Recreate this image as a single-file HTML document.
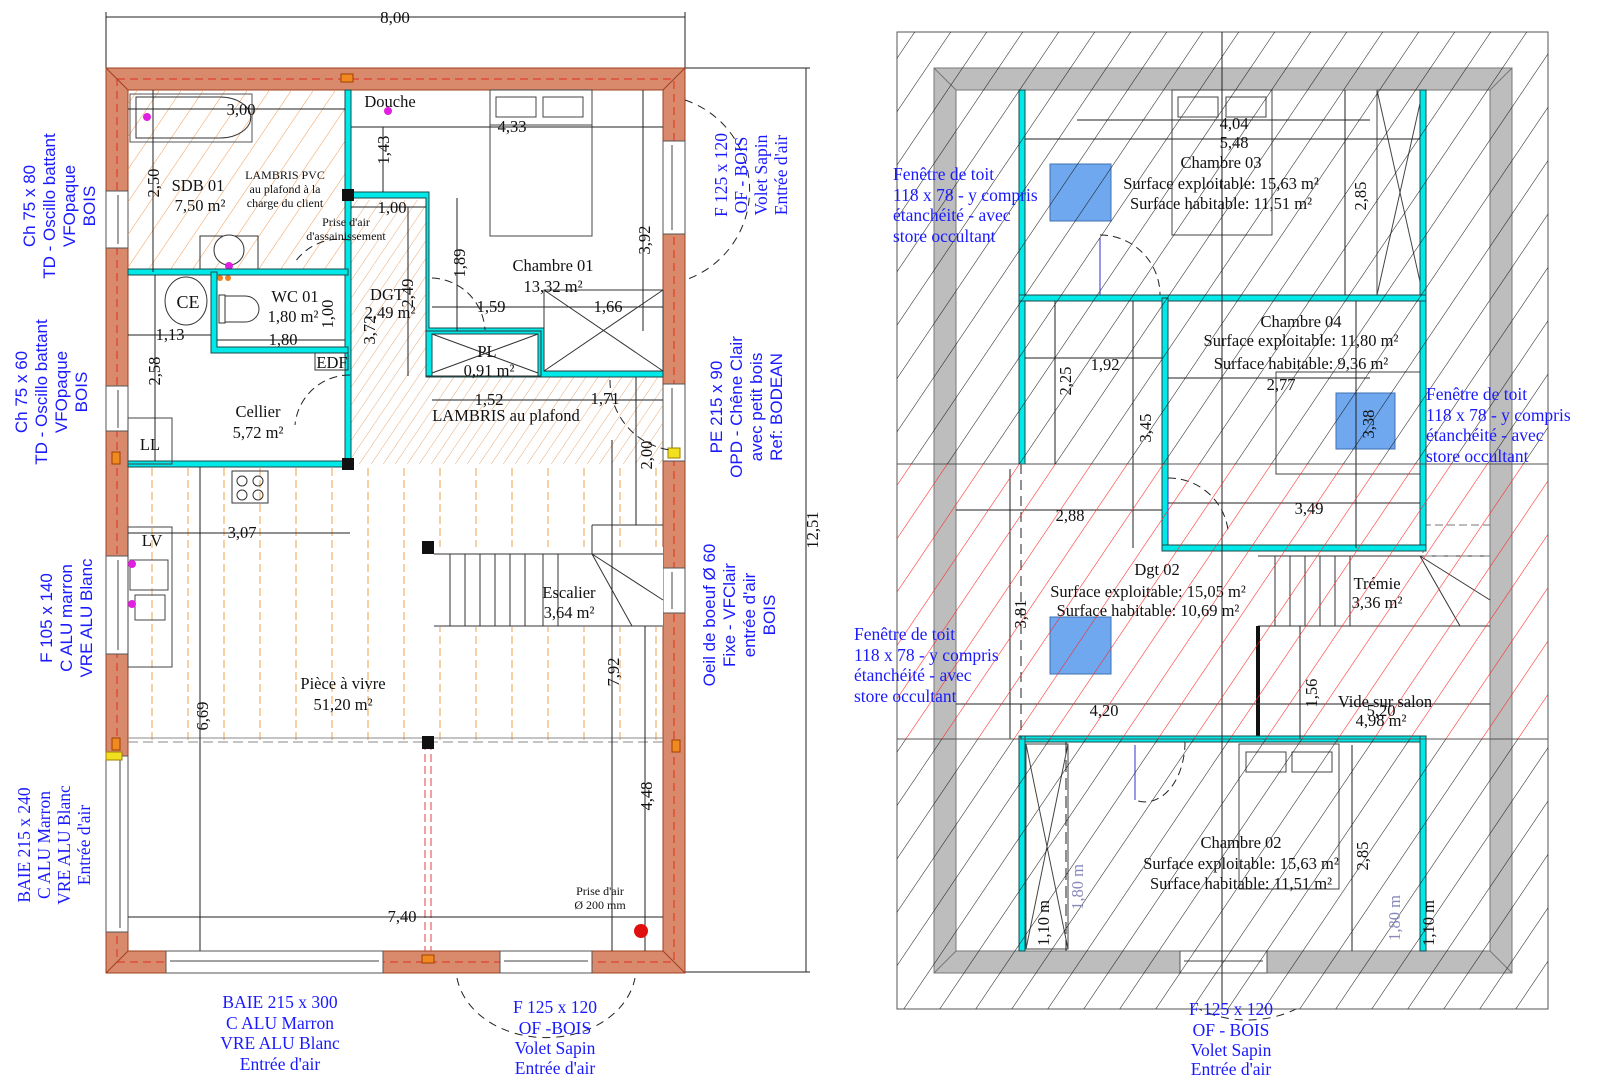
<!DOCTYPE html>
<html><head><meta charset="utf-8"><style>
html,body{margin:0;padding:0;background:#fff}
svg{display:block}
.s{font-family:"Liberation Serif",serif;font-size:16.5px;fill:#111}
.sm{font-size:12px}
.b{fill:#1a1aff;font-size:17.5px}
.bs{font-family:"Liberation Sans",sans-serif;font-size:17px;fill:#1a1aff}
.d{stroke:#222;stroke-width:1;fill:none}
.cy{fill:#00e8e8;stroke:#1a4a4a;stroke-width:1}
</style></head><body>
<svg width="1600" height="1075" viewBox="0 0 1600 1075" xmlns="http://www.w3.org/2000/svg">
<defs>
<pattern id="hk" patternUnits="userSpaceOnUse" width="36" height="54" patternTransform="skewX(-34)">
<line x1="0" y1="0" x2="0" y2="54" stroke="#111" stroke-width="1.2"/></pattern>
<pattern id="hr" patternUnits="userSpaceOnUse" width="36" height="54" patternTransform="skewX(-34)">
<line x1="0" y1="0" x2="0" y2="54" stroke="#ff2020" stroke-width="1.3"/></pattern>
<pattern id="ho" patternUnits="userSpaceOnUse" width="22" height="30" patternTransform="skewX(-34)">
<line x1="0" y1="0" x2="0" y2="30" stroke="#f09040" stroke-width="1.1"/></pattern>
<pattern id="hd" patternUnits="userSpaceOnUse" width="12" height="18" patternTransform="skewX(-34)">
<line x1="0" y1="0" x2="0" y2="18" stroke="#e09050" stroke-width="0.9"/></pattern>
<pattern id="vl" patternUnits="userSpaceOnUse" width="36" height="12">
<line x1="8" y1="0" x2="8" y2="8" stroke="#f0a050" stroke-width="1"/></pattern>
</defs>

<!-- ================= LEFT PLAN ================= -->
<line class="d" x1="106" y1="17" x2="685" y2="17"/>
<line class="d" x1="106" y1="12" x2="106" y2="68"/><line class="d" x1="685" y1="12" x2="685" y2="68"/>
<text class="s" x="395" y="23" text-anchor="middle" style="font-size:17px">8,00</text>
<line class="d" x1="806" y1="68" x2="806" y2="972"/>
<line class="d" x1="685" y1="68" x2="810" y2="68"/><line class="d" x1="685" y1="972" x2="810" y2="972"/>
<text class="s" transform="translate(818,530) rotate(-90)" text-anchor="middle">12,51</text>

<path d="M106 68 H685 V973 H106 Z M128 90 V951 H663 V90 Z" fill="#d9896c" fill-rule="evenodd" stroke="#a0401f" stroke-width="1"/>
<rect x="117" y="79" width="557" height="883" fill="none" stroke="#e03020" stroke-width="1" stroke-dasharray="8 5"/>
<line x1="106" y1="68" x2="128" y2="90" stroke="#a0401f"/><line x1="685" y1="68" x2="663" y2="90" stroke="#a0401f"/>
<line x1="106" y1="973" x2="128" y2="951" stroke="#a0401f"/><line x1="685" y1="973" x2="663" y2="951" stroke="#a0401f"/>
<g fill="#fff" stroke="#555" stroke-width="1">
<rect x="106" y="191" width="22" height="57"/><rect x="106" y="386" width="22" height="45"/>
<rect x="106" y="556" width="22" height="98"/><rect x="106" y="756" width="22" height="176"/>
<rect x="663" y="141" width="22" height="93"/><rect x="663" y="384" width="22" height="77"/>
<rect x="663" y="568" width="22" height="45"/>
<rect x="166" y="951" width="217" height="22"/><rect x="500" y="951" width="92" height="22"/>
</g>
<g stroke="#444" stroke-width="1"><line x1="118" y1="195" x2="118" y2="244"/><line x1="118" y1="390" x2="118" y2="428"/>
<line x1="118" y1="560" x2="118" y2="650"/><line x1="120" y1="760" x2="120" y2="928"/>
<line x1="672" y1="145" x2="672" y2="230"/><line x1="672" y1="388" x2="672" y2="457"/><line x1="672" y1="572" x2="672" y2="609"/>
<line x1="170" y1="961" x2="379" y2="961"/><line x1="504" y1="961" x2="588" y2="961"/></g>
<rect x="341" y="74" width="12" height="8" fill="#f08a20" stroke="#a04000"/>
<rect x="112" y="452" width="8" height="12" fill="#f08a20" stroke="#a04000"/>
<rect x="112" y="738" width="8" height="12" fill="#f08a20" stroke="#a04000"/>
<rect x="672" y="740" width="8" height="12" fill="#f08a20" stroke="#a04000"/>
<rect x="422" y="955" width="12" height="8" fill="#f08a20" stroke="#a04000"/>
<rect x="668" y="448" width="12" height="10" fill="#f0e020" stroke="#a08000"/>
<rect x="106" y="752" width="16" height="8" fill="#f0e020" stroke="#a08000"/>
<path d="M685 100 A95 95 0 0 1 685 280" class="d" stroke-dasharray="8 6"/>
<path d="M457 978 A90 70 0 0 0 635 978" class="d" stroke-dasharray="8 6"/>
<path d="M1165 978 A90 70 0 0 0 1330 978" class="d" stroke-dasharray="8 6"/>

<rect x="128" y="90" width="220" height="182" fill="url(#ho)"/>
<rect x="348" y="200" width="78" height="264" fill="url(#hd)"/>
<rect x="426" y="376" width="237" height="88" fill="url(#hd)"/>
<rect x="128" y="464" width="535" height="278" fill="url(#vl)"/>
<rect x="428" y="547" width="235" height="80" fill="#fff"/>
<line x1="128" y1="742" x2="663" y2="742" stroke="#888" stroke-dasharray="10 5"/>
<line x1="128" y1="738" x2="663" y2="738" stroke="#888"/>
<line x1="431" y1="742" x2="431" y2="951" stroke="#e04040" stroke-dasharray="8 4"/>
<line x1="425" y1="742" x2="425" y2="951" stroke="#e04040" stroke-dasharray="8 4"/>

<path d="M136 97 H220 A30 20 0 0 1 220 138 H136 Z" fill="none" stroke="#333"/>
<rect x="130" y="94" width="122" height="48" fill="none" stroke="#555"/>
<circle cx="147" cy="117" r="4" fill="#e020e0"/><circle cx="388" cy="111" r="4" fill="#e020e0"/>
<rect x="200" y="236" width="58" height="34" fill="none" stroke="#333"/>
<circle cx="229" cy="250" r="15" fill="#fff" stroke="#333"/><circle cx="229" cy="266" r="4" fill="#e020e0"/>
<circle cx="220" cy="278" r="3" fill="#f08020"/><circle cx="228" cy="278" r="3" fill="#f08020"/>
<rect class="cy" x="345" y="90" width="6" height="374"/>
<rect class="cy" x="128" y="269" width="220" height="6"/>
<rect class="cy" x="128" y="461" width="220" height="6"/>
<path class="cy" d="M211 272 H217 V347 H348 V353 H211 Z"/>
<path class="cy" d="M348 192 H429 V328 H544 V371 H663 V377 H538 V334 H432 V376 H538 V377 H426 V198 H348 Z" fill-rule="evenodd"/>
<rect x="426" y="331" width="115" height="45" fill="none" stroke="#333"/>
<line x1="432" y1="334" x2="538" y2="373" stroke="#333"/><line x1="538" y1="334" x2="432" y2="373" stroke="#333"/>
<rect x="544" y="290" width="119" height="81" fill="none" stroke="#333"/>
<line x1="544" y1="371" x2="663" y2="290" stroke="#333"/><line x1="544" y1="290" x2="663" y2="371" stroke="#333"/>
<rect x="342" y="189" width="12" height="12" fill="#111"/><rect x="342" y="458" width="12" height="12" fill="#111"/>
<rect x="422" y="541" width="12" height="13" fill="#111"/><rect x="422" y="736" width="12" height="13" fill="#111"/>
<rect x="490" y="90" width="102" height="146" fill="none" stroke="#444"/>
<rect x="496" y="97" width="40" height="20" fill="none" stroke="#444"/><rect x="543" y="97" width="40" height="20" fill="none" stroke="#444"/>
<line x1="490" y1="125" x2="592" y2="125" stroke="#444"/>
<ellipse cx="186" cy="301" rx="21" ry="24" fill="#fff" stroke="#333"/>
<rect x="219" y="295" width="6" height="28" fill="none" stroke="#333"/>
<path d="M225 296 H245 A14 13 0 0 1 245 322 H225" fill="none" stroke="#333"/>
<rect x="315" y="353" width="33" height="17" fill="none" stroke="#333"/>
<rect x="128" y="418" width="44" height="46" fill="none" stroke="#444"/>
<rect x="128" y="527" width="44" height="140" fill="none" stroke="#444"/>
<rect x="232" y="471" width="36" height="32" fill="none" stroke="#333"/>
<g fill="none" stroke="#333"><circle cx="242" cy="481" r="5"/><circle cx="258" cy="481" r="5"/><circle cx="242" cy="495" r="5"/><circle cx="258" cy="495" r="5"/></g>
<rect x="130" y="560" width="38" height="30" fill="none" stroke="#444"/><rect x="135" y="595" width="30" height="25" fill="none" stroke="#444"/>
<circle cx="132" cy="564" r="4" fill="#e020e0"/><circle cx="132" cy="604" r="4" fill="#e020e0"/>
<g stroke="#333" stroke-width="1"><line x1="434" y1="554" x2="663" y2="554"/><line x1="434" y1="626" x2="663" y2="626"/>
<line x1="450" y1="554" x2="450" y2="626"/><line x1="465" y1="554" x2="465" y2="626"/><line x1="480" y1="554" x2="480" y2="626"/>
<line x1="495" y1="554" x2="495" y2="626"/><line x1="510" y1="554" x2="510" y2="626"/><line x1="525" y1="554" x2="525" y2="626"/>
<line x1="543" y1="554" x2="543" y2="626"/><line x1="558" y1="554" x2="558" y2="626"/><line x1="592" y1="554" x2="632" y2="626"/>
<line x1="592" y1="554" x2="663" y2="600"/><line x1="592" y1="525" x2="663" y2="525"/><line x1="592" y1="525" x2="592" y2="554"/></g>
<g class="d" stroke="#3030d0" stroke-dasharray="8 5"><path d="M350 240 A55 55 0 0 0 295 262"/><path d="M350 375 A55 55 0 0 0 295 425"/>
<path d="M432 278 A55 55 0 0 1 485 330"/><path d="M610 380 A70 70 0 0 0 670 450"/></g>
<g class="d"><line x1="128" y1="109" x2="345" y2="109"/><line x1="351" y1="127" x2="663" y2="127"/>
<line x1="383" y1="127" x2="383" y2="192"/><line x1="153" y1="90" x2="153" y2="272"/><line x1="351" y1="207" x2="426" y2="207"/>
<line x1="643" y1="90" x2="643" y2="331"/><line x1="457" y1="198" x2="457" y2="331"/><line x1="432" y1="307" x2="663" y2="307"/>
<line x1="128" y1="335" x2="211" y2="335"/><line x1="217" y1="340" x2="345" y2="340"/><line x1="155" y1="275" x2="155" y2="461"/>
<line x1="432" y1="400" x2="663" y2="400"/><line x1="408" y1="207" x2="408" y2="376"/><line x1="636" y1="377" x2="636" y2="525"/>
<line x1="128" y1="533" x2="350" y2="533"/><line x1="200" y1="467" x2="200" y2="951"/><line x1="612" y1="440" x2="612" y2="951"/>
<line x1="645" y1="626" x2="645" y2="951"/><line x1="128" y1="917" x2="663" y2="917"/></g>

<g class="s">
<text x="241" y="115" text-anchor="middle">3,00</text>
<text x="390" y="107" text-anchor="middle">Douche</text>
<text x="512" y="132" text-anchor="middle">4,33</text>
<text transform="translate(389,150) rotate(-90)" text-anchor="middle">1,43</text>
<text transform="translate(159,183) rotate(-90)" text-anchor="middle">2,50</text>
<text x="198" y="191" text-anchor="middle">SDB 01</text><text x="200" y="211" text-anchor="middle">7,50 m²</text>
<text class="s sm" x="285" y="179" text-anchor="middle">LAMBRIS PVC</text>
<text class="s sm" x="285" y="193" text-anchor="middle">au plafond à la</text>
<text class="s sm" x="285" y="207" text-anchor="middle">charge du client</text>
<text x="392" y="213" text-anchor="middle">1,00</text>
<text class="s sm" x="346" y="226" text-anchor="middle">Prise d'air</text>
<text class="s sm" x="346" y="240" text-anchor="middle">d'assainissement</text>
<text transform="translate(650,240) rotate(-90)" text-anchor="middle">3,92</text>
<text transform="translate(465,263) rotate(-90)" text-anchor="middle">1,89</text>
<text x="553" y="271" text-anchor="middle">Chambre 01</text><text x="553" y="292" text-anchor="middle">13,32 m²</text>
<text x="188" y="308" text-anchor="middle" style="font-size:18px">CE</text>
<text x="295" y="302" text-anchor="middle">WC 01</text><text x="293" y="322" text-anchor="middle">1,80 m²</text>
<text x="387" y="300" text-anchor="middle">DGT</text><text x="390" y="318" text-anchor="middle">2,49 m²</text>
<text transform="translate(413,293) rotate(-90)" text-anchor="middle">2,49</text>
<text transform="translate(333,314) rotate(-90)" text-anchor="middle">1,00</text>
<text transform="translate(375,330) rotate(-90)" text-anchor="middle">3,72</text>
<text x="491" y="312" text-anchor="middle">1,59</text><text x="608" y="312" text-anchor="middle">1,66</text>
<text x="170" y="340" text-anchor="middle">1,13</text><text x="283" y="345" text-anchor="middle">1,80</text>
<text x="332" y="368" text-anchor="middle">EDF</text>
<text x="487" y="357" text-anchor="middle">PL</text><text x="489" y="376" text-anchor="middle">0,91 m²</text>
<text transform="translate(160,371) rotate(-90)" text-anchor="middle">2,58</text>
<text x="489" y="405" text-anchor="middle">1,52</text><text x="605" y="404" text-anchor="middle">1,71</text>
<text x="506" y="421" text-anchor="middle">LAMBRIS au plafond</text>
<text x="258" y="417" text-anchor="middle">Cellier</text><text x="258" y="438" text-anchor="middle">5,72 m²</text>
<text x="150" y="450" text-anchor="middle">LL</text>
<text transform="translate(652,455) rotate(-90)" text-anchor="middle">2,00</text>
<text x="242" y="538" text-anchor="middle">3,07</text>
<text x="152" y="546" text-anchor="middle">LV</text>
<text x="569" y="598" text-anchor="middle">Escalier</text><text x="569" y="618" text-anchor="middle">3,64 m²</text>
<text transform="translate(619,672) rotate(-90)" text-anchor="middle">7,92</text>
<text x="343" y="689" text-anchor="middle">Pièce à vivre</text><text x="343" y="710" text-anchor="middle">51,20 m²</text>
<text transform="translate(208,716) rotate(-90)" text-anchor="middle">6,69</text>
<text transform="translate(652,796) rotate(-90)" text-anchor="middle">4,48</text>
<text class="s sm" x="600" y="895" text-anchor="middle">Prise d'air</text>
<text class="s sm" x="600" y="909" text-anchor="middle">Ø 200 mm</text>
<text x="402" y="922" text-anchor="middle">7,40</text>
</g>
<circle cx="641" cy="931" r="7" fill="#e01010"/>
<g class="s b" text-anchor="middle">
<text x="280" y="1008">BAIE 215 x 300</text><text x="280" y="1029">C ALU Marron</text><text x="280" y="1049">VRE ALU Blanc</text><text x="280" y="1070">Entrée d'air</text>
<text x="555" y="1013">F 125 x 120</text><text x="555" y="1034">OF -BOIS</text><text x="555" y="1054">Volet Sapin</text><text x="555" y="1074">Entrée d'air</text>
<text transform="translate(727,175) rotate(-90)"><tspan x="0" dy="0">F 125 x 120</tspan><tspan x="0" dy="20">OF - BOIS</tspan><tspan x="0" dy="20">Volet Sapin</tspan><tspan x="0" dy="20">Entrée d'air</tspan></text>
</g>
<g class="bs" text-anchor="middle">
<text transform="translate(35,206) rotate(-90)"><tspan x="0">Ch 75 x 80</tspan><tspan x="0" dy="20">TD - Oscillo battant</tspan><tspan x="0" dy="20">VFOpaque</tspan><tspan x="0" dy="20">BOIS</tspan></text>
<text transform="translate(27,392) rotate(-90)"><tspan x="0">Ch 75 x 60</tspan><tspan x="0" dy="20">TD - Oscillo battant</tspan><tspan x="0" dy="20">VFOpaque</tspan><tspan x="0" dy="20">BOIS</tspan></text>
<text transform="translate(52,618) rotate(-90)"><tspan x="0">F 105 x 140</tspan><tspan x="0" dy="20">C ALU marron</tspan><tspan x="0" dy="20">VRE ALU Blanc</tspan></text>
<text transform="translate(722,407) rotate(-90)"><tspan x="0">PE 215 x 90</tspan><tspan x="0" dy="20">OPD - Chêne Clair</tspan><tspan x="0" dy="20">avec petit bois</tspan><tspan x="0" dy="20">Ref: BODEAN</tspan></text>
<text transform="translate(715,615) rotate(-90)"><tspan x="0">Oeil de boeuf Ø 60</tspan><tspan x="0" dy="20">Fixe - VFClair</tspan><tspan x="0" dy="20">entrée d'air</tspan><tspan x="0" dy="20">BOIS</tspan></text>
</g>
<g class="s b" text-anchor="middle">
<text transform="translate(30,845) rotate(-90)"><tspan x="0">BAIE 215 x 240</tspan><tspan x="0" dy="20">C ALU Marron</tspan><tspan x="0" dy="20">VRE ALU Blanc</tspan><tspan x="0" dy="20">Entrée d'air</tspan></text>
</g>

<!-- ================= RIGHT PLAN ================= -->
<rect x="897" y="32" width="651" height="977" fill="#fff" stroke="#555"/>
<path d="M934 68 H1512 V973 H934 Z M956 90 V951 H1490 V90 Z" fill="#bdbdbd" fill-rule="evenodd" stroke="#777"/>
<line x1="934" y1="68" x2="956" y2="90" stroke="#777"/><line x1="1512" y1="68" x2="1490" y2="90" stroke="#777"/>
<line x1="934" y1="973" x2="956" y2="951" stroke="#777"/><line x1="1512" y1="973" x2="1490" y2="951" stroke="#777"/>
<rect x="1180" y="951" width="87" height="22" fill="#fff" stroke="#555"/>
<line x1="1184" y1="961" x2="1263" y2="961" stroke="#444"/>
<rect x="1172" y="90" width="100" height="145" fill="none" stroke="#444"/>
<rect x="1178" y="97" width="40" height="20" fill="none" stroke="#444"/><rect x="1226" y="97" width="40" height="20" fill="none" stroke="#444"/>
<rect x="1377" y="90" width="46" height="205" fill="none" stroke="#444"/>
<line x1="1377" y1="90" x2="1423" y2="295" stroke="#444"/><line x1="1423" y1="90" x2="1377" y2="295" stroke="#444"/>
<rect x="1276" y="372" width="147" height="102" fill="none" stroke="#444"/>
<rect x="1239" y="744" width="100" height="145" fill="none" stroke="#444"/>
<rect x="1246" y="752" width="40" height="20" fill="none" stroke="#444"/><rect x="1292" y="752" width="40" height="20" fill="none" stroke="#444"/>
<rect x="1026" y="744" width="42" height="205" fill="none" stroke="#444"/>
<line x1="1026" y1="744" x2="1068" y2="949" stroke="#444"/><line x1="1068" y1="744" x2="1026" y2="949" stroke="#444"/>
<g stroke="#333"><line x1="1258" y1="556" x2="1490" y2="556"/><line x1="1258" y1="626" x2="1490" y2="626"/>
<line x1="1275" y1="556" x2="1275" y2="626"/><line x1="1290" y1="556" x2="1290" y2="626"/><line x1="1305" y1="556" x2="1305" y2="626"/>
<line x1="1320" y1="556" x2="1320" y2="626"/><line x1="1335" y1="556" x2="1335" y2="626"/><line x1="1350" y1="556" x2="1350" y2="626"/>
<line x1="1420" y1="556" x2="1460" y2="626"/><line x1="1420" y1="556" x2="1490" y2="600"/></g>
<rect x="1423" y="525" width="67" height="31" fill="none" stroke="#777" stroke-dasharray="8 4"/>
<line x1="1258" y1="626" x2="1258" y2="739" stroke="#111" stroke-width="4"/>
<rect x="1050" y="164" width="61" height="57" fill="#6fa8ef" stroke="#4070b0"/>
<rect x="1336" y="393" width="59" height="56" fill="#6fa8ef" stroke="#4070b0"/>
<rect x="1050" y="617" width="61" height="57" fill="#6fa8ef" stroke="#4070b0"/>
<rect class="cy" x="1019" y="90" width="6" height="374"/>
<rect class="cy" x="1420" y="90" width="6" height="461"/>
<rect class="cy" x="1019" y="295" width="407" height="6"/>
<rect class="cy" x="1162" y="298" width="6" height="253"/>
<rect class="cy" x="1162" y="545" width="264" height="6"/>
<rect class="cy" x="1019" y="736" width="407" height="6"/>
<rect class="cy" x="1019" y="736" width="6" height="215"/>
<rect class="cy" x="1420" y="736" width="6" height="215"/>
<g class="d" stroke="#3030d0" stroke-dasharray="8 5"><path d="M1100 235 A60 60 0 0 1 1160 295"/><path d="M1168 478 A60 60 0 0 1 1228 530"/><path d="M1185 742 A40 60 0 0 1 1135 800"/></g>
<g stroke="#3030d0"><line x1="1100" y1="238" x2="1100" y2="295"/><line x1="1168" y1="480" x2="1168" y2="540"/><line x1="1135" y1="745" x2="1135" y2="800"/></g>
<g class="d"><line x1="1077" y1="120" x2="1370" y2="120"/><line x1="1025" y1="139" x2="1420" y2="139"/>
<line x1="1345" y1="90" x2="1345" y2="295"/><line x1="1025" y1="358" x2="1162" y2="358"/><line x1="1055" y1="301" x2="1055" y2="464"/>
<line x1="1168" y1="378" x2="1370" y2="378"/><line x1="1133" y1="301" x2="1133" y2="548"/><line x1="1356" y1="301" x2="1356" y2="548"/>
<line x1="956" y1="510" x2="1162" y2="510"/><line x1="1168" y1="503" x2="1420" y2="503"/><line x1="1010" y1="469" x2="1010" y2="739"/>
<line x1="956" y1="704" x2="1258" y2="704"/><line x1="1258" y1="704" x2="1490" y2="704"/><line x1="1300" y1="626" x2="1300" y2="739"/>
<line x1="1352" y1="745" x2="1352" y2="951"/><line x1="1222" y1="32" x2="1222" y2="1009"/>
<line x1="1066" y1="742" x2="1066" y2="951" stroke-dasharray="12 6"/><line x1="1021" y1="464" x2="1021" y2="739" stroke-dasharray="10 6"/></g>
<line x1="897" y1="464" x2="1548" y2="464" stroke="#555"/><line x1="897" y1="739" x2="1548" y2="739" stroke="#555"/>
<rect x="897" y="32" width="651" height="432" fill="url(#hk)"/>
<rect x="897" y="464" width="651" height="275" fill="url(#hr)"/>
<rect x="897" y="739" width="651" height="270" fill="url(#hk)"/>
<g class="s" text-anchor="middle">
<text x="1234" y="129">4,04</text><text x="1234" y="148">5,48</text>
<text x="1221" y="168">Chambre 03</text><text x="1221" y="189">Surface exploitable: 15,63 m²</text><text x="1221" y="209">Surface habitable: 11,51 m²</text>
<text transform="translate(1366,196) rotate(-90)">2,85</text>
<text x="1301" y="327">Chambre 04</text><text x="1301" y="346">Surface exploitable: 11,80 m²</text><text x="1301" y="369">Surface habitable: 9,36 m²</text>
<text x="1105" y="370">1,92</text><text transform="translate(1071,381) rotate(-90)">2,25</text><text x="1281" y="390">2,77</text>
<text transform="translate(1151,428) rotate(-90)">3,45</text><text transform="translate(1374,424) rotate(-90)">3,38</text>
<text x="1070" y="521">2,88</text><text x="1309" y="514">3,49</text>
<text x="1157" y="575">Dgt 02</text><text x="1148" y="597">Surface exploitable: 15,05 m²</text><text x="1148" y="616">Surface habitable: 10,69 m²</text>
<text transform="translate(1026,614) rotate(-90)">3,81</text>
<text x="1377" y="589">Trémie</text><text x="1377" y="608">3,36 m²</text>
<text x="1104" y="716">4,20</text><text transform="translate(1317,693) rotate(-90)">1,56</text>
<text x="1385" y="707">Vide sur salon</text><text x="1381" y="716">5,20</text><text x="1381" y="726">4,98 m²</text>
<text x="1241" y="848">Chambre 02</text><text x="1241" y="869">Surface exploitable: 15,63 m²</text><text x="1241" y="889">Surface habitable: 11,51 m²</text>
<text transform="translate(1368,856) rotate(-90)">2,85</text>
<text transform="translate(1049,923) rotate(-90)">1,10 m</text><text transform="translate(1434,923) rotate(-90)">1,10 m</text>
<text transform="translate(1083,887) rotate(-90)" style="fill:#8888bb">1,80 m</text><text transform="translate(1400,918) rotate(-90)" style="fill:#8888bb">1,80 m</text>
</g>
<g class="s b">
<text x="893" y="180">Fenêtre de toit</text><text x="893" y="201">118 x 78 - y compris</text><text x="893" y="221">étanchéité - avec</text><text x="893" y="242">store occultant</text>
<text x="1426" y="400">Fenêtre de toit</text><text x="1426" y="421">118 x 78 - y compris</text><text x="1426" y="441">étanchéité - avec</text><text x="1426" y="462">store occultant</text>
<text x="854" y="640">Fenêtre de toit</text><text x="854" y="661">118 x 78 - y compris</text><text x="854" y="681">étanchéité - avec</text><text x="854" y="702">store occultant</text>
<text x="1231" y="1015" text-anchor="middle">F 125 x 120</text><text x="1231" y="1036" text-anchor="middle">OF - BOIS</text><text x="1231" y="1056" text-anchor="middle">Volet Sapin</text><text x="1231" y="1075" text-anchor="middle">Entrée d'air</text>
</g>
</svg>
</body></html>
